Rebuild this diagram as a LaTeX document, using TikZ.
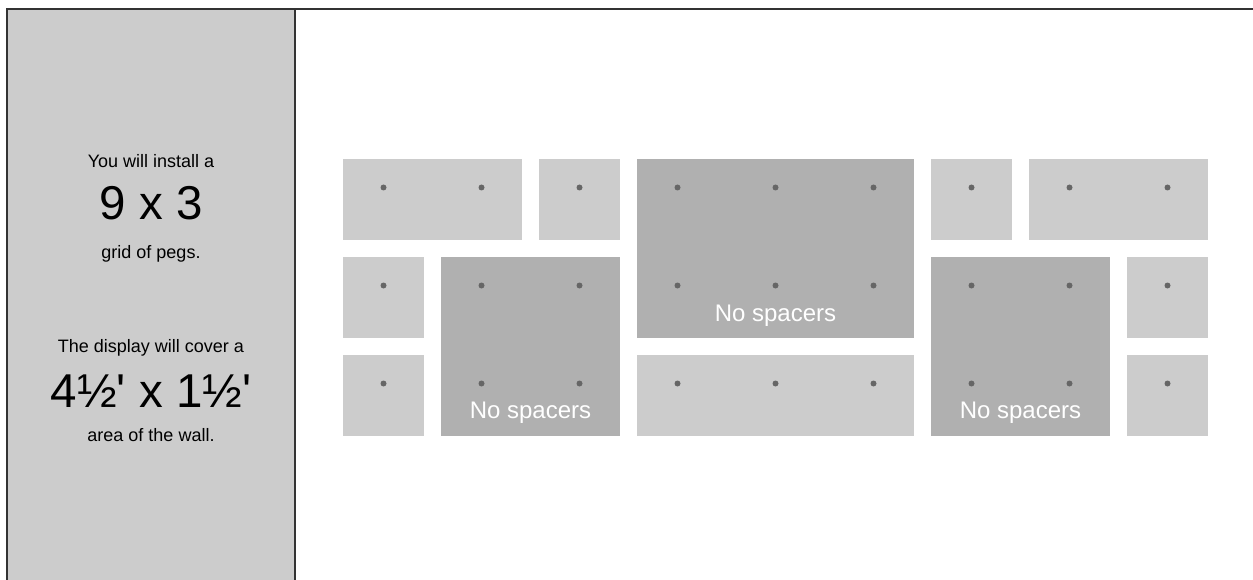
\documentclass[tikz,border=0pt]{standalone}
\usepackage{fontspec}
\setmainfont{Liberation Sans}
\definecolor{lighttile}{HTML}{CCCCCC}
\definecolor{darktile}{HTML}{B0B0B0}
\definecolor{pegdot}{HTML}{666666}
\definecolor{panelgray}{HTML}{CCCCCC}
\definecolor{frame}{HTML}{333333}
\tikzset{
  tile/.style={rectangle, inner sep=0pt, outer sep=0pt, anchor=north west, draw=none},
  light/.style={tile, fill=lighttile},
  dark/.style={tile, fill=darktile},
  peg/.style={circle, fill=pegdot, inner sep=0pt, minimum size=6pt, draw=none},
  nosp/.style={text=white, font=\fontsize{24}{28}\selectfont, inner sep=0pt},
  small/.style={font=\fontsize{18}{22}\selectfont, inner sep=0pt},
  big/.style={font=\fontsize{47.5}{52}\selectfont, inner sep=0pt},
}
\begin{document}
\begin{tikzpicture}[x=1pt,y=-1pt]
\useasboundingbox (0,0) rectangle (1253,580);
% left panel
\node[tile, fill=panelgray, minimum width=288pt, minimum height=575pt] (panel) at (7,9.5) {};
\draw[frame, line width=2pt] (panel.south west) -- (panel.north west) -- (panel.north east) -- (panel.south east);
\coordinate (topend) at (1253,9.5);
\draw[frame, line width=2pt] (panel.north east) -- (topend);
% panel texts
\node[small] (t1) at (151,161) {You will install a};
\node[big] (t2) at (151,203) {9 x 3};
\node[small] (t3) at (151,254) {grid of pegs.};
\node[small] (t4) at (151,348) {The display will cover a};
\node[big] (t5) at (151,391) {4½\textquotesingle{} x 1½\textquotesingle};
\node[small] (t6) at (151,435) {area of the wall.};
% tiles row 1
\node[light, minimum width=179pt, minimum height=81pt] (a1) at (343,159) {};
\node[light, minimum width=81pt, minimum height=81pt] (a2) at (539,159) {};
\node[dark, minimum width=277pt, minimum height=179pt] (big1) at (637,159) {};
\node[light, minimum width=81pt, minimum height=81pt] (a3) at (931,159) {};
\node[light, minimum width=179pt, minimum height=81pt] (a4) at (1029,159) {};
% row 2
\node[light, minimum width=81pt, minimum height=81pt] (b1) at (343,257) {};
\node[dark, minimum width=179pt, minimum height=179pt] (big2) at (441,257) {};
\node[dark, minimum width=179pt, minimum height=179pt] (big3) at (931,257) {};
\node[light, minimum width=81pt, minimum height=81pt] (b2) at (1127,257) {};
% row 3
\node[light, minimum width=81pt, minimum height=81pt] (c1) at (343,355) {};
\node[light, minimum width=277pt, minimum height=81pt] (c2) at (637,355) {};
\node[light, minimum width=81pt, minimum height=81pt] (c3) at (1127,355) {};
% pegs
\foreach \i in {0,...,8} {
  \foreach \j in {0,1,2} {
    \node[peg] (p\i\j) at ({383.5+98*\i},{187.5+98*\j}) {};
  }
}
% labels
\node[nosp] (n1) at (775.5,316) {No spacers};
\node[nosp] (n2) at (530.5,413) {No spacers};
\node[nosp] (n3) at (1020.5,413) {No spacers};
\end{tikzpicture}
\end{document}
